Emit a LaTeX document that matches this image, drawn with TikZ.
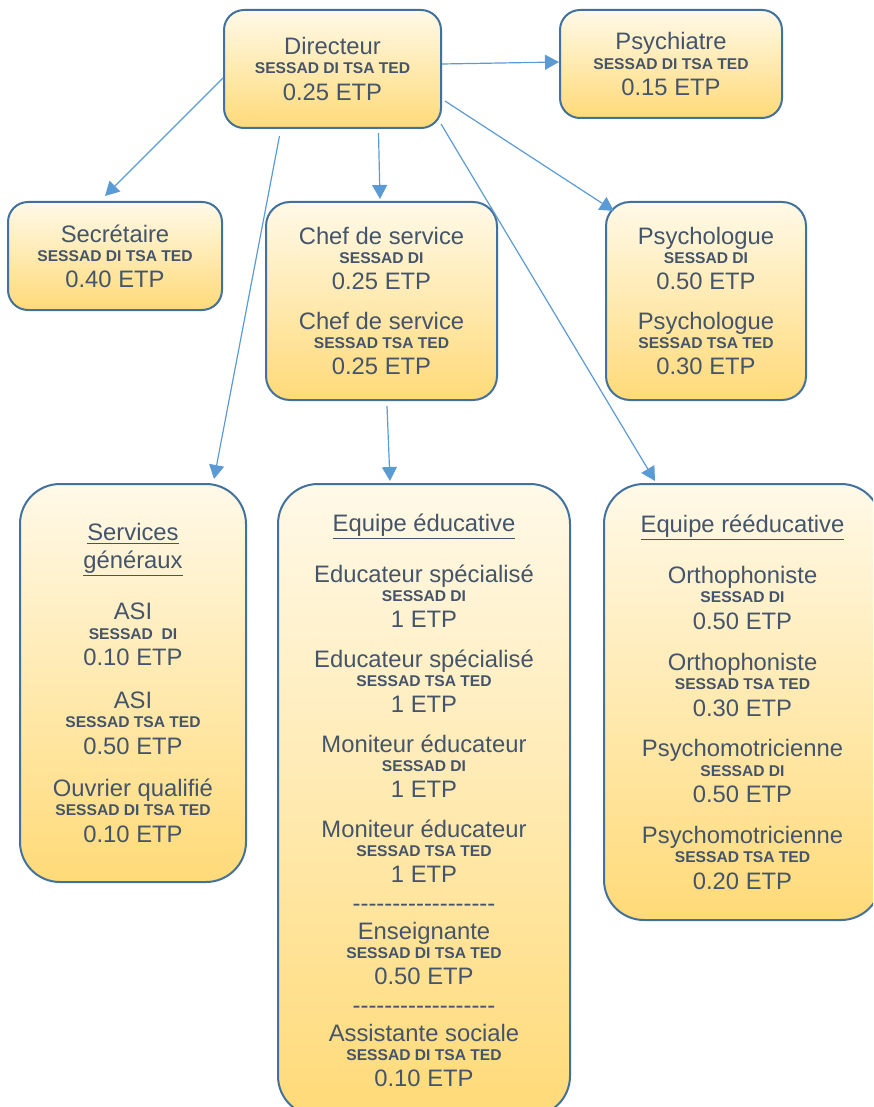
\documentclass[tikz,border=0pt]{standalone}
\usepackage{fontspec}
\setmainfont{Liberation Sans}
\usetikzlibrary{arrows.meta,calc}
\definecolor{txt}{RGB}{68,84,106}
\definecolor{bord}{RGB}{65,113,156}
\definecolor{arr}{RGB}{91,155,213}
\definecolor{gtop}{RGB}{255,249,232}
\definecolor{gbot}{RGB}{255,218,120}
\newcommand\ssad[1]{{\fontsize{7.8pt}{9.75pt}\selectfont\bfseries #1}}
\newcommand\hh{-\kern0pt}
\newcommand\dline{\hh\hh\hh\hh\hh\hh\hh\hh\hh\hh\hh\hh\hh\hh\hh\hh\hh\hh}
\newcommand\uln[1]{\underline{#1}}
\newcommand\boxfont{\fontsize{11.9pt}{9.6pt}\selectfont\lineskiplimit=-20pt\relax}
\begin{document}
\begin{tikzpicture}[x=0.5pt,y=-0.5pt,
  box/.style={draw=bord, line width=1pt, top color=gtop, bottom color=gbot,
    rounded corners=#1, align=center, text=txt,
    font=\boxfont, inner sep=0pt},
  box/.default=10pt,
  conn/.style={draw=arr, line width=0.6pt, -{Triangle[length=7pt,width=7.5pt]}}]
\useasboundingbox (0,0) rectangle (873,1107);
\clip (0,0) rectangle (873,1107);

\node[box, minimum width=108.5pt, minimum height=59pt] (dir) at (332.5,69)
  {Directeur\\\ssad{SESSAD DI TSA TED}\\[3.6pt]0.25 ETP};
\node[box, minimum width=111pt, minimum height=54pt] (psy) at (671,64)
  {Psychiatre\\\ssad{SESSAD DI TSA TED}\\[3.4pt]0.15 ETP};
\node[box, minimum width=107pt, minimum height=54pt] (sec) at (115,256)
  {Secrétaire\\\ssad{SESSAD DI TSA TED}\\[3.4pt]0.40 ETP};
\node[box=12pt, minimum width=115.5pt, minimum height=99pt] (chef) at (381.5,301)
  {Chef de service\\\ssad{SESSAD DI}\\[3.5pt]0.25 ETP\\[10.2pt]Chef de service\\\ssad{SESSAD TSA TED}\\[3.5pt]0.25 ETP};
\node[box=12pt, minimum width=100pt, minimum height=99pt] (pslg) at (706,301)
  {Psychologue\\\ssad{SESSAD DI}\\[3.5pt]0.50 ETP\\[10.2pt]Psychologue\\\ssad{SESSAD TSA TED}\\[3.5pt]0.30 ETP};
\node[box=20pt, minimum width=113pt, minimum height=199pt] (serv) at (133,683)
  {\uln{Services}\\[4.25pt]\uln{généraux}\\[16.25pt]ASI\\\ssad{SESSAD\ \ DI}\\[3.8pt]0.10 ETP\\[11.6pt]ASI\\\ssad{SESSAD TSA TED}\\[3.8pt]0.50 ETP\\[11.6pt]Ouvrier qualifié\\\ssad{SESSAD DI TSA TED}\\[3.8pt]0.10 ETP};
\node[box=20pt, minimum width=146pt, minimum height=316pt] (educ) at (424,800)
  {\uln{Equipe éducative}\\[16.25pt]Educateur spécialisé\\\ssad{SESSAD DI}\\[3.3pt]1 ETP\\[10.4pt]Educateur spécialisé\\\ssad{SESSAD TSA TED}\\[3.3pt]1 ETP\\[10.4pt]Moniteur éducateur\\\ssad{SESSAD DI}\\[3.3pt]1 ETP\\[10.4pt]Moniteur éducateur\\\ssad{SESSAD TSA TED}\\[3.3pt]1 ETP\\[4.8pt]\dline\\[4.4pt]Enseignante\\\ssad{SESSAD DI TSA TED}\\[3.3pt]0.50 ETP\\[4.8pt]\dline\\[4.4pt]Assistante sociale\\\ssad{SESSAD DI TSA TED}\\[3.3pt]0.10 ETP};
\node[box=20pt, minimum width=138.5pt, minimum height=218pt] (reed) at (742.5,702)
  {\uln{Equipe rééducative}\\[16.25pt]Orthophoniste\\\ssad{SESSAD DI}\\[3.7pt]0.50 ETP\\[10.8pt]Orthophoniste\\\ssad{SESSAD TSA TED}\\[3.7pt]0.30 ETP\\[10.8pt]Psychomotricienne\\\ssad{SESSAD DI}\\[3.7pt]0.50 ETP\\[10.8pt]Psychomotricienne\\\ssad{SESSAD TSA TED}\\[3.7pt]0.20 ETP};

\draw[conn] ($(dir.east)+(0,-5)$) -- ($(psy.west)+(0,-2)$);
\draw[conn] ($(dir.west)+(0,9)$) -- ($(sec.north)+(-10,-5)$);
\draw[conn] ($(dir.south)+(46,4)$) -- ($(chef.north)+(-1.5,-2)$);
\draw[conn] ($(dir.east)+(3,32)$) -- ($(pslg.north west)+(9,10)$);
\draw[conn] ($(dir.south)+(-53,7)$) -- ($(serv.north)+(81,-4)$);
\draw[conn] ($(dir.south east)+(-1,-5)$) -- ($(reed.north)+(-87.5,-2)$);
\draw[conn] ($(chef.south)+(5.5,5)$) -- ($(educ.north)+(-34,-2)$);
\end{tikzpicture}
\end{document}
